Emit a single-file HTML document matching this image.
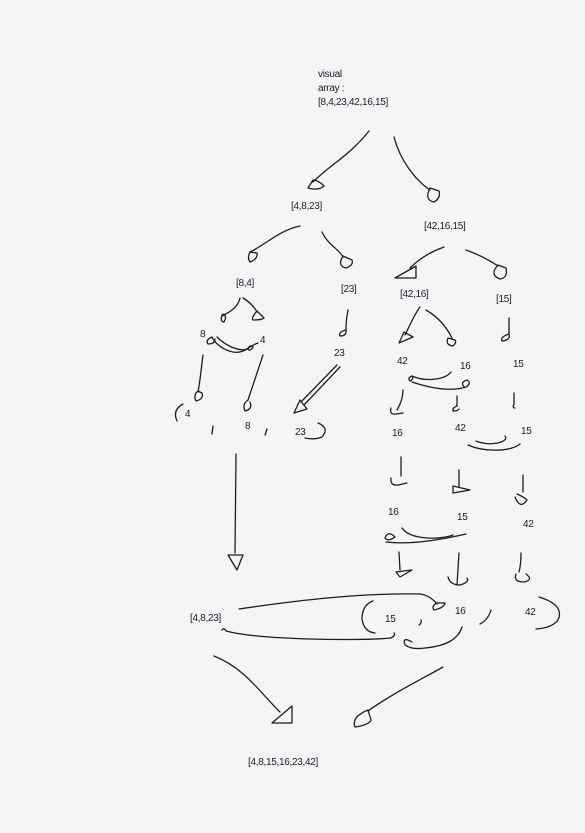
<!DOCTYPE html>
<html><head><meta charset="utf-8"><style>
html,body{margin:0;padding:0;background:#f5f5f5;}
svg{display:block;}
text{font-family:"Liberation Sans",sans-serif;font-size:10px;fill:#1a1a30;letter-spacing:-0.3px;}
path{fill:none;stroke:#1e1e1e;stroke-width:1.3;stroke-linecap:round;stroke-linejoin:round;}
</style></head><body>
<svg width="585" height="833" viewBox="0 0 585 833">
<rect width="585" height="833" fill="#f5f5f5" style="stroke:none"/>
<text x="318" y="77">visual</text>
<text x="318" y="91">array :</text>
<text x="318" y="105">[8,4,23,42,16,15]</text>
<text x="291" y="209">[4,8,23]</text>
<text x="424" y="229">[42,16,15]</text>
<text x="236" y="286">[8,4]</text>
<text x="341" y="292">[23]</text>
<text x="400" y="297">[42,16]</text>
<text x="496" y="302">[15]</text>
<text x="200" y="337">8</text>
<text x="260" y="343">4</text>
<text x="334" y="356">23</text>
<text x="397" y="364">42</text>
<text x="460" y="369">16</text>
<text x="513" y="367">15</text>
<text x="185" y="417">4</text>
<text x="245" y="429">8</text>
<text x="295" y="435">23</text>
<text x="392" y="436">16</text>
<text x="455" y="431">42</text>
<text x="521" y="434">15</text>
<text x="388" y="515">16</text>
<text x="457" y="520">15</text>
<text x="523" y="527">42</text>
<text x="190" y="621">[4,8,23]</text>
<text x="385" y="622">15</text>
<text x="455" y="614">16</text>
<text x="525" y="615">42</text>
<text x="248" y="765">[4,8,15,16,23,42]</text>

<path d="M369 131 C350 155 330 165 313 182"/>
<path d="M313 180 L308 188 Q318 191 324 186 Q318 180 313 180Z"/>
<path d="M394 137 C400 160 415 180 430 190"/>
<path d="M430 188 Q424 200 434 202 Q441 198 439 191 Z"/>
<path d="M300 226 C280 230 265 245 250 252"/>
<path d="M250 252 Q247 258 250 262 Q258 259 257 253 Z"/>
<path d="M322 232 C328 245 340 250 343 257"/>
<path d="M343 256 Q337 266 346 268 Q354 265 352 260 Z"/>
<path d="M444 247 C430 252 418 260 410 268"/>
<path d="M395 278 L416 266 L416 278 Z"/>
<path d="M466 250 C480 255 492 262 498 266"/>
<path d="M498 265 Q489 275 500 279 Q508 278 506 268 Z"/>
<path d="M240 298 C238 308 228 313 222 316"/>
<path d="M222 315 Q220 322 224 322 Q227 317 224 314Z"/>
<path d="M243 298 C250 302 255 308 257 312"/>
<path d="M257 311 Q251 318 253 320 Q262 320 264 318 Z"/>
<path d="M217 337 C225 345 238 352 248 349"/>
<path d="M248 349 Q250 344 253 347 Q250 352 248 349"/>
<path d="M258 343 C248 346 245 354 233 352 C222 350 214 342 212 337"/>
<path d="M212 337 Q205 340 208 344 Q215 344 215 339"/>
<path d="M203 355 C201 370 200 382 198 392"/>
<path d="M198 391 Q193 395 196 401 Q204 399 202 393 Z"/>
<path d="M263 355 C258 370 253 385 248 400"/>
<path d="M248 400 Q242 404 245 411 Q253 409 250 402"/>
<path d="M348 310 C346 320 346 325 346 330"/>
<path d="M346 330 Q338 332 340 336 Q347 336 346 330"/>
<path d="M337 365 L301 402"/>
<path d="M340 367 L304 405"/>
<path d="M294 413 L300 400 L307 409 Z"/>
<path d="M420 307 C414 315 410 325 405 335"/>
<path d="M399 343 L413 337 L404 332 Z"/>
<path d="M426 310 C440 318 448 330 452 338"/>
<path d="M448 338 Q445 345 453 346 Q457 342 455 340 Z"/>
<path d="M509 318 L509 334"/>
<path d="M509 334 Q500 337 502 341 Q511 340 509 334"/>
<path d="M412 376 C425 382 445 380 451 372"/>
<path d="M412 376 Q407 378 410 381 Q414 379 412 376"/>
<path d="M412 382 C430 388 450 392 466 387"/>
<path d="M466 387 Q472 383 467 380 Q460 382 464 387"/>
<path d="M403 390 C403 398 400 405 397 410"/>
<path d="M391 408 Q389 415 396 414 L403 413"/>
<path d="M457 396 L457 406"/>
<path d="M457 406 Q452 408 453 411 Q458 411 459 409"/>
<path d="M514 393 L514 404"/>
<path d="M514 404 Q512 408 515 408"/>
<path d="M476 441 C490 447 510 442 505 436"/>
<path d="M468 445 C483 452 510 452 520 444"/>
<path d="M401 457 L401 476"/>
<path d="M391 478 Q390 486 398 485 L407 483"/>
<path d="M459 470 L459 487"/>
<path d="M453 486 L470 490 L453 493 Z"/>
<path d="M523 475 L523 492"/>
<path d="M515 497 Q520 510 527 500 Q524 497 517 494"/>
<path d="M402 528 C410 540 440 540 453 535"/>
<path d="M385 538 Q388 530 395 537 Q388 542 385 538"/>
<path d="M386 542 C410 545 440 540 466 534"/>
<path d="M399 552 L400 570"/>
<path d="M396 572 L412 570 L400 577 Z"/>
<path d="M459 553 L457 585"/>
<path d="M448 577 Q450 585 460 585 Q470 582 467 578"/>
<path d="M521 553 C521 565 520 568 519 572"/>
<path d="M516 574 Q513 582 524 582 Q534 580 526 574"/>
<path d="M236 454 L235 553"/>
<path d="M228 555 L243 555 L237 570 Z"/>
<path d="M239 609 C300 600 360 593 420 594 C428 595 434 600 437 604"/>
<path d="M437 603 Q431 606 434 610 Q444 608 445 603 Z"/>
<path d="M222 630 Q224 627 226 631 C260 640 360 641 391 638"/>
<path d="M391 638 Q396 635 394 633"/>
<path d="M373 601 Q362 605 362 619 Q364 632 375 633"/>
<path d="M421 620 Q422 623 419 625"/>
<path d="M462 627 C458 640 445 646 425 648 Q412 650 405 645 Q402 636 412 642"/>
<path d="M491 610 Q488 620 480 624"/>
<path d="M539 597 Q565 605 558 620 Q552 628 536 629"/>
<path d="M214 656 C245 668 262 695 280 712"/>
<path d="M272 723 L292 706 L292 723 Z"/>
<path d="M443 667 C420 680 390 695 368 711"/>
<path d="M368 710 Q351 717 355 727 Q369 725 371 720 Z"/>
<path d="M183 404 Q172 410 177 421"/>
<path d="M213 426 L212 434"/>
<path d="M267 429 L265 435"/>
<path d="M318 423 Q330 428 322 437 Q315 440 305 438"/>
</svg>
</body></html>
